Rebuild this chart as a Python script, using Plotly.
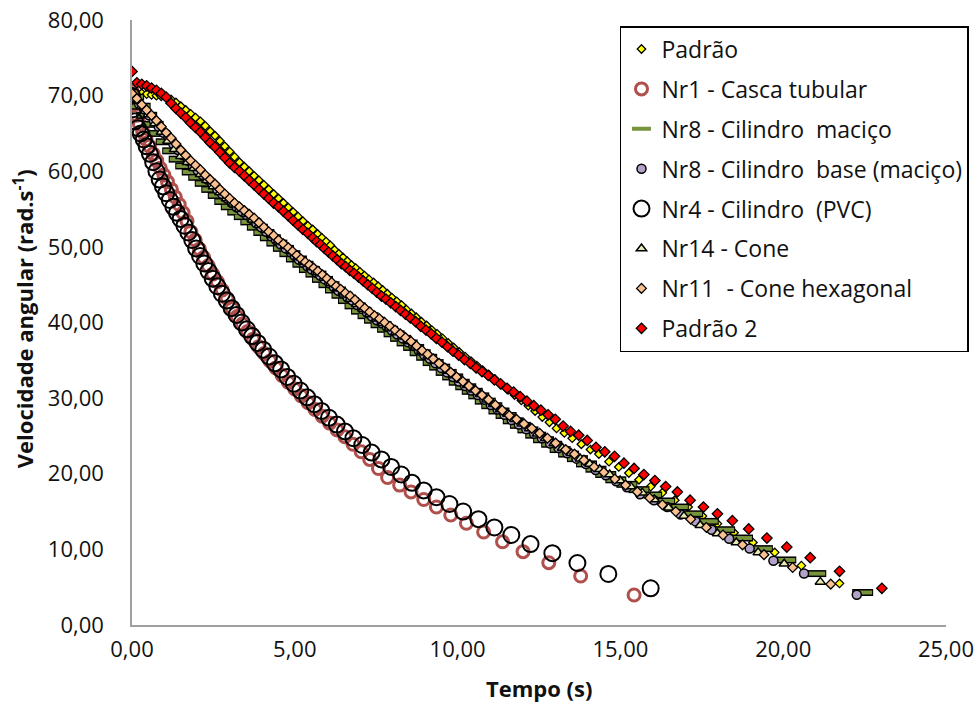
import plotly.graph_objects as go

# ---------------- data ----------------
t_padrao = [0.00,0.15,0.30,0.45,0.60,0.75,0.90,1.05,1.20,1.35,1.50,1.65,1.80,1.95,2.10,2.25,2.40,2.55,2.70,2.85,
            3.00,3.15,3.30,3.45,3.60,3.75,3.90,4.05,4.20,4.35,4.50,4.65,4.80,4.95,5.10,5.25,5.40,5.55,5.70,5.83,
            5.96,6.09,6.22,6.35,6.48,6.61,6.74,6.87,7.00,7.14,7.28,7.42,7.56,7.70,7.84,7.98,8.13,8.28,8.43,8.58,
            8.73,8.89,9.05,9.21,9.37,9.54,9.71,9.88,10.05,10.23,10.41,10.59,10.77,10.96,11.15,11.35,11.55,11.75,11.96,12.17,
            12.38,12.60,12.82,13.04,13.28,13.52,13.80,14.08,14.34,14.65,14.95,15.26,15.57,15.93,16.29,16.67,17.08,17.52,17.98,18.49,
            19.07,19.74,20.56,21.73]
w_padrao = [70.5,70.4,70.3,70.2,70.1,70.0,69.9,69.8,69.5,69.1,68.6,68.1,67.6,67.1,66.6,66.0,65.3,64.7,64.0,63.3,
            62.6,61.9,61.2,60.6,60.0,59.4,58.8,58.2,57.6,57.0,56.4,55.8,55.2,54.6,54.0,53.4,52.8,52.3,51.7,51.2,
            50.7,50.2,49.6,49.1,48.6,48.1,47.6,47.2,46.7,46.2,45.7,45.3,44.8,44.3,43.8,43.3,42.8,42.3,41.7,41.2,
            40.7,40.1,39.6,39.0,38.5,37.9,37.3,36.7,36.1,35.5,34.9,34.3,33.7,33.1,32.5,31.8,31.1,30.4,29.7,29.0,
            28.3,27.5,26.8,26.0,25.4,24.7,23.9,23.2,22.6,21.6,20.9,20.1,19.2,18.3,17.5,16.5,15.6,14.4,13.4,12.2,
            10.9,9.6,7.85,5.5]

t_nr1 = [0.00,0.06,0.14,0.23,0.33,0.43,0.54,0.65,0.76,0.87,0.98,1.09,1.21,1.33,1.45,1.57,1.69,1.81,1.94,2.07,
         2.20,2.34,2.48,2.62,2.77,2.92,3.07,3.23,3.39,3.55,3.72,3.89,4.06,4.24,4.42,4.61,4.80,5.00,5.20,5.41,
         5.62,5.84,6.07,6.30,6.54,6.79,7.04,7.30,7.57,7.85,8.22,8.57,8.96,9.35,9.79,10.27,10.80,11.38,12.01,12.80,
         13.78,15.42]
w_nr1 = [70.6,68.8,67.4,66.2,65.2,64.2,63.3,62.3,61.4,60.4,59.5,58.6,57.6,56.6,55.6,54.5,53.4,52.0,50.9,49.7,
         48.6,47.5,46.4,45.4,44.3,43.2,41.9,40.8,39.8,38.8,37.8,36.8,35.9,34.9,34.0,33.0,32.1,31.2,30.3,29.4,
         28.5,27.6,26.7,25.8,24.9,23.9,22.9,21.9,20.7,19.5,18.5,17.6,16.6,15.6,14.55,13.45,12.3,11.0,9.7,8.24,
         6.48,3.97]

t_nr8_macico = [0.05,0.25,0.45,0.65,0.85,1.05,1.25,1.45,1.65,1.85,2.05,2.25,2.45,2.65,2.85,3.05,3.25,3.45,3.65,3.85,
                4.05,4.25,4.45,4.65,4.85,5.05,5.25,5.45,5.65,5.85,6.05,6.25,6.45,6.65,6.85,7.05,7.25,7.45,7.65,7.85,
                8.05,8.25,8.45,8.65,8.85,9.05,9.25,9.45,9.65,9.85,10.05,10.25,10.45,10.65,10.85,11.05,11.27,11.49,11.71,11.93,
                12.16,12.40,12.64,12.89,13.15,13.41,13.68,13.96,14.25,14.55,14.86,15.20,15.57,15.96,16.36,16.78,17.22,17.70,18.20,18.75,
                19.36,20.08,21.00,22.44]
w_nr8_macico = [69.8,68.6,67.4,66.2,65.0,63.9,62.7,61.6,60.7,59.9,59.2,58.4,57.6,56.8,56.0,55.3,54.6,54.0,53.3,52.6,
                51.9,51.2,50.5,49.8,49.1,48.4,47.7,47.0,46.4,45.7,45.0,44.3,43.6,42.9,42.2,41.5,40.9,40.3,39.7,39.1,
                38.5,37.9,37.3,36.7,36.0,35.4,34.7,34.1,33.4,32.8,32.1,31.5,30.9,30.3,29.6,29.0,28.3,27.7,27.0,26.4,
                25.8,25.1,24.5,23.9,23.2,22.6,22.0,21.3,20.6,19.9,19.2,18.6,17.9,17.2,16.4,15.6,14.7,13.7,12.6,11.5,
                10.1,8.6,6.8,4.3]

t_nr8_base = [0.07,0.22,0.37,0.52,0.67,0.82,0.97,1.12,1.27,1.42,1.57,1.72,1.87,2.02,2.17,2.32,2.47,2.62,2.77,2.92,
              3.07,3.22,3.37,3.52,3.67,3.82,3.97,4.12,4.27,4.42,4.57,4.72,4.87,5.00,5.13,5.26,5.39,5.52,5.65,5.78,
              5.92,6.06,6.20,6.34,6.48,6.62,6.77,6.92,7.07,7.22,7.37,7.52,7.67,7.83,7.99,8.15,8.31,8.47,8.64,8.81,
              8.98,9.15,9.32,9.50,9.68,9.86,10.04,10.23,10.42,10.62,10.82,11.02,11.23,11.44,11.66,11.88,12.11,12.35,12.59,12.84,
              13.10,13.37,13.65,13.94,14.24,14.55,14.87,15.20,15.60,16.03,16.44,16.85,17.31,17.80,18.34,18.97,19.70,20.64,22.26]
w_nr8_base = [69.7,68.9,68.2,67.4,66.7,65.9,65.1,64.4,63.6,62.8,62.1,61.4,60.7,60.1,59.5,58.9,58.3,57.6,57.0,56.4,
              55.8,55.2,54.7,54.2,53.7,53.1,52.6,52.0,51.4,50.9,50.3,49.8,49.3,48.8,48.3,47.9,47.4,47.0,46.6,46.2,
              45.7,45.2,44.7,44.2,43.8,43.3,42.9,42.3,41.8,41.3,40.8,40.3,39.9,39.4,38.9,38.4,37.9,37.4,36.9,36.3,
              35.7,35.2,34.6,34.0,33.4,32.8,32.2,31.6,31.0,30.4,29.8,29.1,28.5,27.8,27.1,26.5,25.9,25.3,24.7,24.0,
              23.4,22.7,22.0,21.3,20.5,19.8,19.0,18.2,17.3,16.5,15.6,14.6,13.7,12.6,11.4,10.1,8.5,6.8,4.0]

t_nr4 = [0.00,0.04,0.09,0.18,0.27,0.36,0.45,0.55,0.65,0.75,0.85,0.95,1.05,1.16,1.27,1.38,1.49,1.61,1.73,1.85,
         1.97,2.09,2.22,2.35,2.48,2.62,2.76,2.91,3.06,3.21,3.37,3.53,3.69,3.86,4.03,4.21,4.39,4.58,4.77,4.97,
         5.17,5.38,5.60,5.82,6.05,6.29,6.54,6.80,7.07,7.36,7.66,7.96,8.27,8.60,8.96,9.35,9.75,10.17,10.64,11.13,
         11.65,12.24,12.91,13.68,14.63,15.93]
w_nr4 = [70.0,68.2,66.6,65.7,65.0,64.2,63.3,62.3,61.2,60.0,58.9,58.0,57.1,56.2,55.3,54.5,53.7,52.8,51.9,50.9,
         49.8,48.8,47.8,46.8,45.8,44.8,43.8,42.9,41.9,41.0,40.0,39.1,38.2,37.3,36.4,35.5,34.6,33.8,32.8,31.9,
         31.0,30.1,29.2,28.3,27.4,26.5,25.6,24.7,23.8,22.8,21.9,20.9,19.9,18.8,17.8,16.9,16.0,15.0,14.0,12.9,
         11.9,10.7,9.5,8.2,6.75,4.85]

t_nr14 = [0.10,0.30,0.50,0.70,0.90,1.10,1.30,1.50,1.70,1.90,2.10,2.30,2.50,2.70,2.90,3.10,3.30,3.50,3.70,3.90,
          4.10,4.30,4.50,4.70,4.90,5.10,5.30,5.50,5.70,5.90,6.10,6.30,6.50,6.70,6.90,7.10,7.30,7.50,7.70,7.90,
          8.10,8.30,8.50,8.70,8.90,9.10,9.30,9.50,9.70,9.90,10.10,10.30,10.50,10.70,10.90,11.10,11.32,11.54,11.76,11.98,
          12.21,12.45,12.70,12.96,13.22,13.49,13.77,14.06,14.36,14.67,14.99,15.32,15.67,16.04,16.48,16.95,17.45,17.98,18.56,19.23,
          20.03,21.14]
w_nr14 = [69.6,68.6,67.5,66.3,65.2,64.0,62.9,62.0,61.2,60.4,59.6,58.8,58.0,57.2,56.4,55.7,55.0,54.3,53.6,52.9,
          52.2,51.5,50.8,50.1,49.4,48.7,48.0,47.3,46.6,45.9,45.2,44.5,43.8,43.1,42.4,41.8,41.1,40.5,39.9,39.3,
          38.7,38.1,37.5,36.8,36.2,35.6,34.9,34.3,33.6,33.0,32.4,31.7,31.1,30.5,29.8,29.2,28.5,27.9,27.2,26.6,
          26.0,25.3,24.7,24.0,23.4,22.7,22.0,21.3,20.6,19.9,19.1,18.3,17.5,16.6,15.5,14.4,13.2,12.1,10.9,9.6,
          8.1,5.7]

t_nr11 = [0.00,0.15,0.30,0.45,0.60,0.75,0.90,1.05,1.20,1.35,1.50,1.65,1.80,1.95,2.10,2.25,2.40,2.55,2.70,2.85,
          3.00,3.15,3.30,3.45,3.60,3.75,3.90,4.05,4.20,4.35,4.50,4.65,4.80,4.93,5.06,5.19,5.32,5.45,5.58,5.71,
          5.85,5.99,6.13,6.27,6.41,6.55,6.70,6.85,7.00,7.15,7.30,7.45,7.60,7.76,7.92,8.08,8.24,8.40,8.57,8.74,
          8.91,9.08,9.25,9.43,9.61,9.79,9.97,10.16,10.35,10.55,10.75,10.95,11.16,11.37,11.59,11.81,12.04,12.28,12.52,12.76,
          13.01,13.32,13.59,13.88,14.19,14.49,14.83,15.16,15.52,15.90,16.29,16.70,17.16,17.64,18.15,18.75,19.41,20.29,21.46]
w_nr11 = [70.3,69.6,68.8,68.1,67.4,66.7,65.9,65.1,64.4,63.6,62.8,62.1,61.4,60.8,60.2,59.5,58.9,58.3,57.6,57.0,
          56.4,55.8,55.3,54.8,54.3,53.8,53.2,52.6,52.0,51.5,50.9,50.4,49.9,49.4,48.9,48.4,48.0,47.6,47.2,46.8,
          46.3,45.8,45.3,44.8,44.4,43.9,43.5,43.0,42.4,41.9,41.4,40.9,40.5,40.0,39.5,39.0,38.5,38.0,37.5,36.9,
          36.3,35.8,35.2,34.6,34.0,33.4,32.8,32.2,31.6,31.0,30.4,29.8,29.1,28.4,27.7,27.2,26.6,26.0,25.35,24.7,
          24.05,23.2,22.6,21.8,20.9,20.2,19.3,18.5,17.6,16.8,15.9,15.0,14.0,12.9,11.9,10.6,9.3,7.6,5.4]

t_padrao2 = [0.00,0.15,0.30,0.45,0.60,0.75,0.90,1.05,1.20,1.35,1.50,1.65,1.80,1.95,2.10,2.25,2.40,2.55,2.70,2.85,
             3.00,3.15,3.30,3.45,3.60,3.75,3.90,4.05,4.20,4.35,4.50,4.65,4.80,4.95,5.10,5.25,5.40,5.55,5.67,5.79,
             5.91,6.04,6.17,6.30,6.43,6.56,6.69,6.82,6.96,7.10,7.24,7.38,7.52,7.66,7.80,7.95,8.10,8.25,8.40,8.55,
             8.71,8.87,9.03,9.19,9.35,9.52,9.69,9.86,10.03,10.21,10.39,10.57,10.75,10.94,11.13,11.32,11.52,11.72,11.92,12.13,
             12.34,12.56,12.78,13.00,13.24,13.47,13.72,13.98,14.25,14.52,14.82,15.11,15.42,15.72,16.06,16.39,16.75,17.14,17.55,17.98,
             18.44,18.94,19.50,20.11,20.83,21.73,23.03]
w_padrao2 = [73.2,71.7,71.5,71.3,71.0,70.7,70.3,69.8,69.0,68.3,67.7,67.1,66.4,65.8,65.2,64.5,63.8,63.2,62.5,61.8,
             61.1,60.5,60.0,59.4,58.8,58.2,57.6,57.0,56.4,55.8,55.3,54.7,54.1,53.5,52.9,52.3,51.8,51.2,50.7,50.3,
             49.8,49.3,48.8,48.3,47.8,47.4,46.9,46.5,46.0,45.5,45.0,44.5,44.0,43.5,43.1,42.6,42.1,41.6,41.1,40.6,
             40.1,39.5,39.0,38.5,37.9,37.4,36.8,36.2,35.7,35.1,34.6,34.0,33.5,33.0,32.4,31.9,31.3,30.8,30.2,29.6,
             29.0,28.4,27.8,27.2,26.3,25.6,25.1,24.4,23.5,22.9,22.3,21.4,20.7,19.9,19.1,18.3,17.6,16.5,15.6,14.7,
             13.8,12.7,11.5,10.3,8.9,7.1,4.85]

x_ticks = [0, 5, 10, 15, 20, 25]
y_ticks = [0, 10, 20, 30, 40, 50, 60, 70, 80]

FONT = "Open Sans, DejaVu Sans, sans-serif"

fig = go.Figure()

fig.add_trace(go.Scatter(x=t_padrao, y=w_padrao, mode="markers", name="Padrão", legendgroup="g1",
                         marker=dict(symbol="diamond", size=6.5, color="#FFFF00", line=dict(color="#000", width=1.3))))
fig.add_trace(go.Scatter(x=t_nr1, y=w_nr1, mode="markers", name="Nr1 - Casca tubular", legendgroup="g2",
                         marker=dict(symbol="circle", size=12, color="rgba(0,0,0,0)", line=dict(color="#B0504D", width=3))))
fig.add_trace(go.Scatter(x=t_nr8_macico, y=w_nr8_macico, mode="markers", name="Nr8 - Cilindro  maciço",
                         legendgroup="g3", showlegend=False, hoverinfo="skip",
                         marker=dict(symbol="line-ew", size=15, color="#000", line=dict(color="#000", width=7))))
fig.add_trace(go.Scatter(x=t_nr8_macico, y=w_nr8_macico, mode="markers", name="Nr8 - Cilindro\u00a0\u00a0maciço",
                         legendgroup="g3",
                         marker=dict(symbol="line-ew", size=13.5, color="#77933C", line=dict(color="#77933C", width=4))))
fig.add_trace(go.Scatter(x=t_nr8_base, y=w_nr8_base, mode="markers", name="Nr8 - Cilindro\u00a0\u00a0base (maciço)",
                         legendgroup="g4",
                         marker=dict(symbol="circle", size=9, color="#B3A2C7", line=dict(color="#000", width=1.5))))
fig.add_trace(go.Scatter(x=t_nr4, y=w_nr4, mode="markers", name="Nr4 - Cilindro\u00a0\u00a0(PVC)", legendgroup="g5",
                         marker=dict(symbol="circle", size=16, color="rgba(0,0,0,0)", line=dict(color="#000", width=2))))
fig.add_trace(go.Scatter(x=t_nr14, y=w_nr14, mode="markers", name="Nr14 - Cone", legendgroup="g6",
                         marker=dict(symbol="triangle-up", size=9, color="#EBE9B3", line=dict(color="#000", width=1.5))))
fig.add_trace(go.Scatter(x=t_nr11, y=w_nr11, mode="markers", name="Nr11\u00a0\u00a0- Cone hexagonal", legendgroup="g7",
                         marker=dict(symbol="diamond", size=7.5, color="#FAC090", line=dict(color="#000", width=1.3))))
fig.add_trace(go.Scatter(x=t_padrao2, y=w_padrao2, mode="markers", name="Padrão 2", legendgroup="g8",
                         marker=dict(symbol="diamond", size=8, color="#FF0000", line=dict(color="#000", width=1.3))))

axis_common = dict(showgrid=False, zeroline=False, showline=True, linecolor="#A0A0A0", linewidth=1.5,
                   ticks="", tickformat=".2f", automargin=False,
                   tickfont=dict(family=FONT, size=22, color="#111"))

fig.update_layout(
    width=976, height=702, autosize=False,
    margin=dict(l=132, r=30, t=20, b=77, autoexpand=False),
    paper_bgcolor="white", plot_bgcolor="white",
    separators=",.",
    font=dict(family=FONT, color="#111"),
    xaxis=dict(range=[0, 25], tickvals=x_ticks, ticklabelstandoff=4, **axis_common),
    yaxis=dict(range=[0, 80], tickvals=y_ticks, ticklabelstandoff=22, **axis_common),
    legend=dict(x=0.5995, y=0.99, xanchor="left", yanchor="top", bgcolor="white",
                bordercolor="#000", borderwidth=1.5, font=dict(family=FONT, size=23, color="#111"),
                tracegroupgap=7, itemwidth=30),
    showlegend=True,
    annotations=[
        dict(text="<b>Tempo (s)</b>", xref="paper", yref="paper", x=0.5, y=-0.104,
             xanchor="center", yanchor="middle", showarrow=False, font=dict(family=FONT, size=22, color="#111")),
        dict(text="<b>Velocidade angular (rad.s<sup>-1</sup>)</b>", xref="paper", yref="paper",
             x=-0.134, y=0.507, xanchor="center", yanchor="middle", textangle=-90, showarrow=False,
             font=dict(family=FONT, size=22, color="#111")),
    ],
)

fig.write_html("out.html", config={"displayModeBar": False},
               post_script="document.body.style.margin='0';")
